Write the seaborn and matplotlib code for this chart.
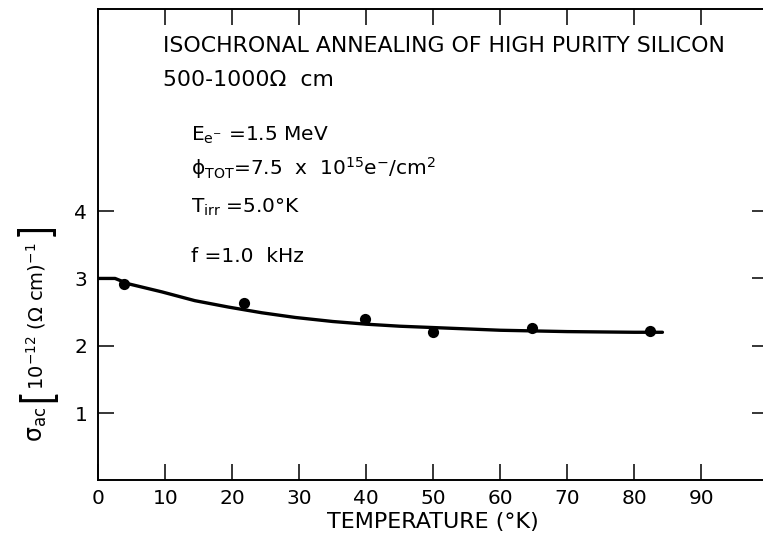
import matplotlib
matplotlib.use("Agg")
import matplotlib.pyplot as plt
import seaborn as sns
import pandas as pd

# Measured conductivity after isochronal anneals
temperature_K = [3.9, 21.8, 39.8, 49.9, 64.8, 82.3]
sigma_ac = [2.91, 2.63, 2.39, 2.20, 2.27, 2.22]

# Hand-drawn trend curve through the measurements
curve_T = [0, 2.5, 4.5, 9.5, 14.4, 19.4, 24.4, 29.4, 35, 40, 45, 50, 55, 60, 70, 80, 84.2]
curve_sigma = [3.00, 3.00, 2.92, 2.80, 2.67, 2.575, 2.49, 2.42, 2.36, 2.32, 2.29,
               2.27, 2.25, 2.23, 2.21, 2.20, 2.20]

x_ticks = [0, 10, 20, 30, 40, 50, 60, 70, 80, 90]
y_ticks = [1, 2, 3, 4]

title_lines = ["ISOCHRONAL ANNEALING OF HIGH PURITY SILICON", "500-1000\u03a9  cm"]
condition_lines = [
    r"E$_{e^{-}}$ =1.5 MeV",
    r"$\phi_{TOT}$=7.5  x  10$^{15}$e$^{-}$/cm$^{2}$",
    "T$_{irr}$ =5.0\u00b0K",
    "f =1.0  kHz",
]

sns.set_theme(style="ticks")
plt.rcParams["font.family"] = ["DejaVu Sans"]
plt.rcParams["mathtext.default"] = "regular"
plt.rcParams["text.color"] = "black"
plt.rcParams["axes.labelcolor"] = "black"

W, H = 763, 541
fig = plt.figure(figsize=(W / 100, H / 100), dpi=100)
ax = fig.add_axes([98.3 / W, (H - 480.3) / H, 670 / W, 471 / H])

curve = pd.DataFrame({"T": curve_T, "sigma": curve_sigma})
points = pd.DataFrame({"T": temperature_K, "sigma": sigma_ac})

sns.lineplot(data=curve, x="T", y="sigma", sort=False, estimator=None,
             color="black", linewidth=2.4, ax=ax)
sns.scatterplot(data=points, x="T", y="sigma", color="black", s=65,
                edgecolor="black", linewidth=0, zorder=3, ax=ax)

ax.set_xlim(0, 100)
ax.set_ylim(0, 7)
ax.set_xticks(x_ticks)
ax.set_xticklabels([str(v) for v in x_ticks])
ax.set_yticks(y_ticks)
ax.set_yticklabels([str(v) for v in y_ticks])

for side in ["left", "bottom", "top", "right"]:
    ax.spines[side].set_visible(True)
    ax.spines[side].set_linewidth(1.4)
    ax.spines[side].set_color("black")

ax.tick_params(axis="both", which="major", direction="in", length=11.5, width=1.1,
               color="black", labelsize=14.5, labelcolor="black")
ax.tick_params(axis="x", top=True, bottom=True, pad=6)
ax.tick_params(axis="y", left=True, right=True, pad=8)

ax.set_xlabel("TEMPERATURE (\u00b0K)", fontsize=16, labelpad=3)
ax.set_ylabel("")

# Vertical axis title built from rotated pieces: symbol, tall brackets, units
def fig_xy(px, py):
    return px / W, (H - py) / H

fig.text(*fig_xy(37, 424), r"$\sigma_{ac}$", rotation=90, fontsize=17,
         ha="center", va="center")
fig.text(*fig_xy(37, 396), "[", rotation=90, fontsize=30, ha="center", va="center",
         family=["Lato", "DejaVu Sans"])
fig.text(*fig_xy(37, 230), "]", rotation=90, fontsize=30, ha="center", va="center",
         family=["Lato", "DejaVu Sans"])
fig.text(*fig_xy(36, 316), "10$^{-12}$ (\u03a9 cm)$^{-1}$", rotation=90, fontsize=14,
         ha="center", va="center")

ax.text(9.6, 6.37, title_lines[0], fontsize=15.8, ha="left", va="baseline")
ax.text(9.6, 5.86, title_lines[1], fontsize=15.8, ha="left", va="baseline")

baselines = [5.05, 4.54, 3.97, 3.25]
for line, yb in zip(condition_lines, baselines):
    ax.text(13.8, yb, line, fontsize=14.5, ha="left", va="baseline")

fig.savefig("out.png", dpi=100)
